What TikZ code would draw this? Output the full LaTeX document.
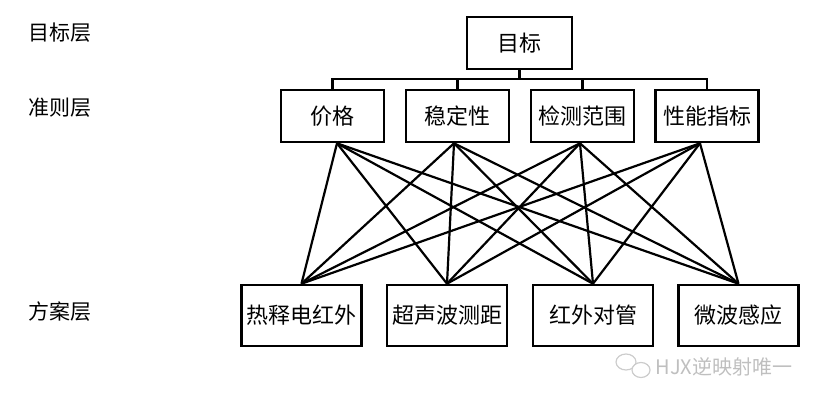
\documentclass[tikz,border=0pt]{standalone}
\usepackage{fontspec}
\newfontfamily\cjk{Noto Sans CJK SC}
\begin{document}
\begin{tikzpicture}[x=1pt,y=-1pt,
	box/.style={draw,line width=2.6pt,minimum height=52pt,inner sep=0pt,font=\cjk\fontsize{22}{26}\selectfont},
	layer/.style={font=\cjk\fontsize{21}{25}\selectfont},
	link/.style={line width=2.2pt}]
	\useasboundingbox (0,0) rectangle (820,404);
	% layer labels
	\node[layer] (lgoal) at (60,33) {目标层};
	\node[layer] (lcrit) at (60,108) {准则层};
	\node[layer] (lalt) at (60,312) {方案层};
	% boxes
	\node[box,minimum width=105pt] (goal) at (519.5,43) {目标};
	\foreach \n/\x/\t in {c1/332.5/价格, c2/457.5/稳定性, c3/582.5/检测范围, c4/707/性能指标}
		\node[box,minimum width=103pt] (\n) at (\x,116) {\t};
	\foreach \n/\x/\t in {a1/301.5/热释电红外, a2/447/超声波测距, a3/593/红外对管, a4/738.5/微波感应}
		\node[box,minimum width=120pt,minimum height=61pt] (\n) at (\x,315.5) {\t};
	% tree from goal to criteria
	\coordinate (bus) at (0,79);
	\draw[link] (goal.south) -- (goal.south |- bus);
	\draw[link] (c1.north) -- (c1.north |- bus) -| (c4.north);
	\draw[link] (c2.north) -- (c2.north |- bus);
	\draw[link] (c3.north) -- (c3.north |- bus);
	% criteria to alternatives
	\foreach \c/\s in {c1/4.5, c2/-3.5, c3/-2.5, c4/-7}
		\foreach \a in {a1,a2,a3,a4}
			\draw[link] ([xshift=\s pt]\c.south) -- (\a.north);
	% watermark
	\draw[gray!40,line width=1.2pt] (626,362) ellipse (10 and 8);
	\draw[gray!40,line width=1.2pt,fill=white] (641,370) ellipse (9 and 7.5);
	\node[font=\cjk\fontsize{20}{24}\selectfont,text=gray!50] (wm) at (724,367) {HJX逆映射唯一};
\end{tikzpicture}
\end{document}
